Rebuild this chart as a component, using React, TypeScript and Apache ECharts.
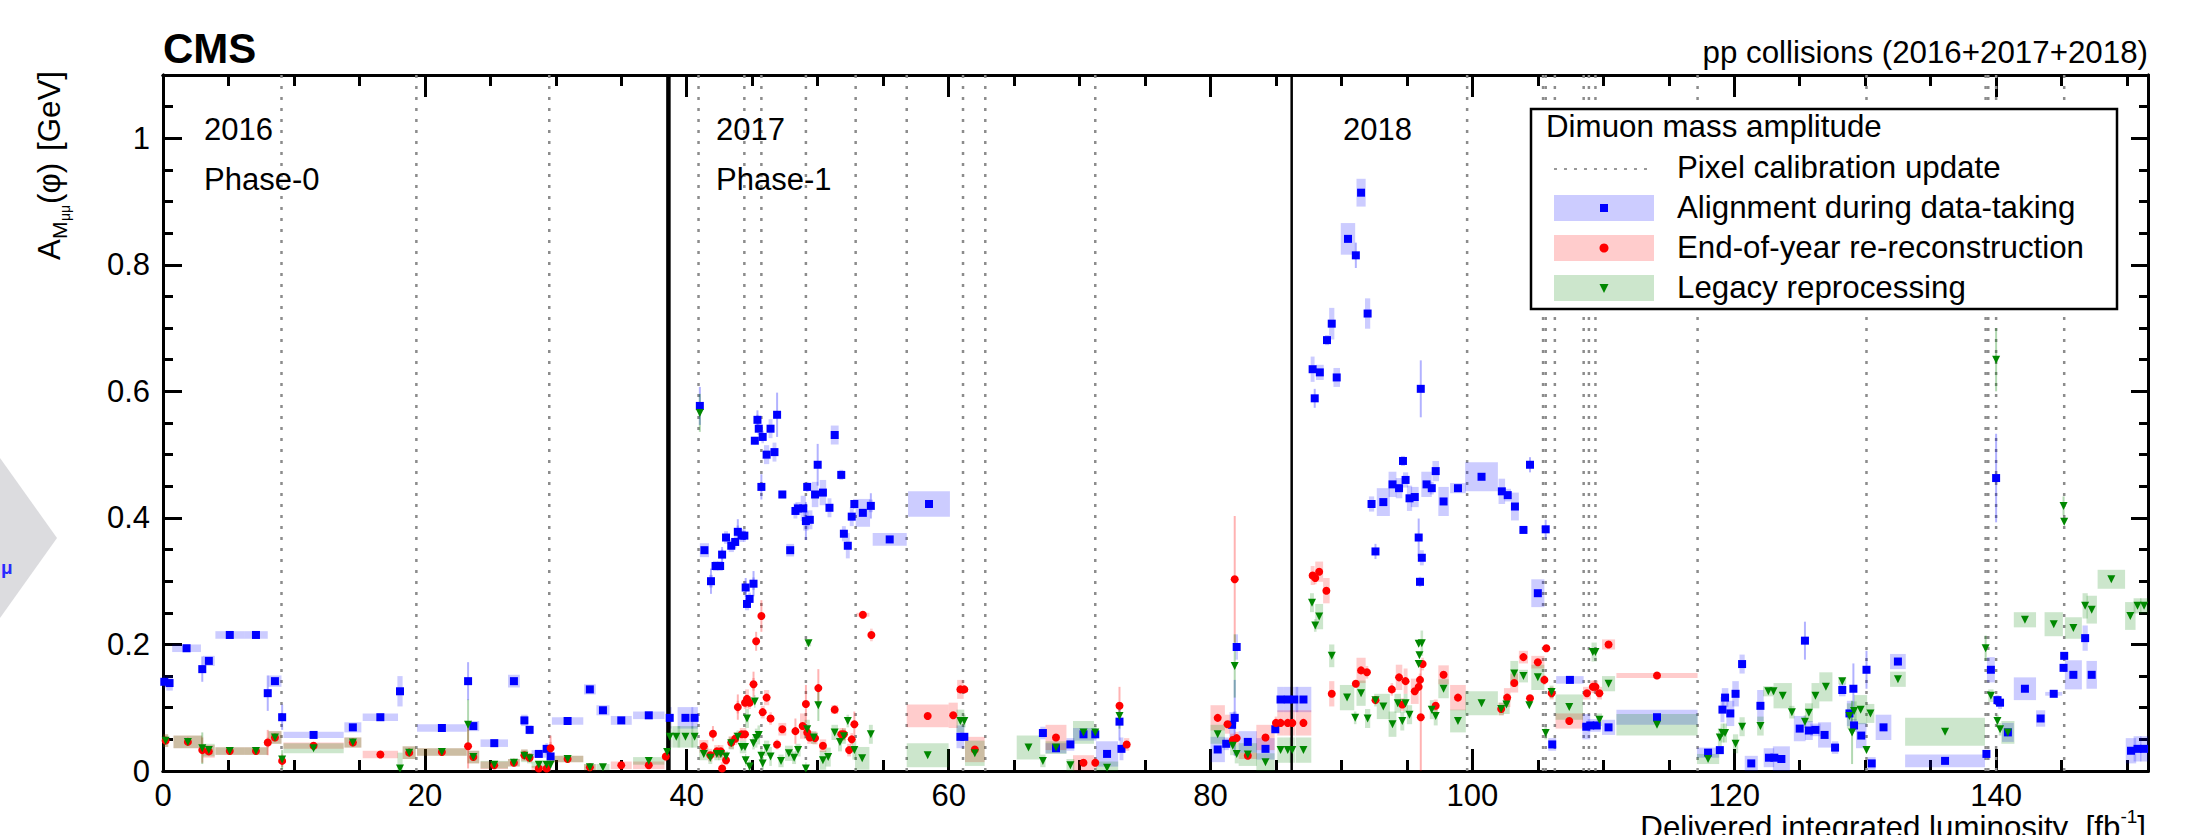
import React, { useEffect, useRef } from "react";
import * as echarts from "echarts";

const FONT = "'Liberation Sans', Arial, Helvetica, sans-serif";

const X_MAX = 151.6;
const Y_MAX = 1.1;
const xTickLabels = [0, 20, 40, 60, 80, 100, 120, 140];
const yTickLabels = [0, 0.2, 0.4, 0.6, 0.8, 1];

// Pixel-calibration updates and year boundaries (integrated luminosity, fb^-1)
const calibLines = [9.05, 19.35, 29.5, 40.9, 44.4, 45.7, 49.1, 52.9, 56.8, 61.1, 62.8, 71.2,
  99.6, 105.4, 105.6, 106.3, 108.5, 108.9, 109.4, 117.2, 130.1, 139.2, 139.4, 140.0, 145.2];
const yearLines = [38.6, 86.2];

// [x, y, box half-width (x), box half-height (y), stat. error (optional)]
const alignData = [
  [0.1, 0.141, 0.1, 0.01], [0.5, 0.139, 0.25, 0.012], [1.8, 0.194, 1.1, 0.006], [3.0, 0.161, 0.05, 0.004, 0.02],
  [3.5, 0.174, 0.45, 0.008], [5.1, 0.215, 1.1, 0.006], [7.1, 0.215, 0.9, 0.006], [8.0, 0.123, 0.1, 0.004, 0.028],
  [8.55, 0.142, 0.5, 0.009], [9.1, 0.085, 0.1, 0.004, 0.02], [11.5, 0.057, 2.3, 0.005], [14.5, 0.069, 0.65, 0.008],
  [16.6, 0.085, 1.35, 0.006], [18.1, 0.126, 0.2, 0.024], [21.3, 0.068, 1.9, 0.006], [23.3, 0.142, 0.05, 0.004, 0.03],
  [23.7, 0.071, 0.45, 0.008], [25.3, 0.044, 1.05, 0.006], [26.8, 0.142, 0.45, 0.01], [27.6, 0.08, 0.25, 0.009],
  [28.0, 0.065, 0.2, 0.007], [28.7, 0.027, 0.55, 0.006], [29.3, 0.035, 0.1, 0.009], [29.6, 0.023, 0.1, 0.005],
  [30.9, 0.079, 1.2, 0.006], [32.6, 0.129, 0.45, 0.008], [33.6, 0.096, 0.5, 0.008], [35.0, 0.08, 0.8, 0.007],
  [37.1, 0.088, 1.2, 0.006],
  [38.7, 0.084, 0.15, 0.017], [39.9, 0.084, 0.6, 0.017], [40.6, 0.084, 0.25, 0.017],
  [41.0, 0.577, 0.08, 0.005, 0.03], [41.35, 0.349, 0.35, 0.011], [41.85, 0.3, 0.15, 0.01, 0.02], [42.2, 0.324, 0.2, 0.008],
  [42.55, 0.324, 0.2, 0.008], [42.7, 0.342, 0.1, 0.008, 0.012], [43.0, 0.369, 0.15, 0.01], [43.4, 0.356, 0.2, 0.01],
  [43.7, 0.362, 0.1, 0.01], [43.9, 0.378, 0.1, 0.01, 0.02], [44.2, 0.372, 0.15, 0.01], [44.4, 0.372, 0.1, 0.01],
  [44.5, 0.29, 0.1, 0.01, 0.015], [44.6, 0.264, 0.15, 0.01], [44.8, 0.272, 0.1, 0.01], [45.1, 0.296, 0.1, 0.01, 0.02],
  [45.2, 0.522, 0.1, 0.006], [45.4, 0.555, 0.1, 0.008, 0.015], [45.5, 0.541, 0.1, 0.01], [45.7, 0.449, 0.08, 0.006, 0.02],
  [45.8, 0.528, 0.1, 0.01], [46.1, 0.5, 0.2, 0.015], [46.4, 0.541, 0.15, 0.015], [46.7, 0.504, 0.15, 0.015],
  [46.9, 0.563, 0.05, 0.005, 0.035], [47.3, 0.437, 0.25, 0.006], [47.9, 0.349, 0.3, 0.01], [48.3, 0.411, 0.15, 0.012],
  [48.5, 0.415, 0.2, 0.01], [48.9, 0.415, 0.2, 0.02], [49.1, 0.395, 0.2, 0.015, 0.03], [49.4, 0.397, 0.2, 0.015],
  [49.2, 0.449, 0.1, 0.008], [49.8, 0.437, 0.25, 0.02], [50.0, 0.484, 0.05, 0.005, 0.033], [50.4, 0.44, 0.25, 0.02],
  [50.9, 0.416, 0.15, 0.015], [51.3, 0.531, 0.3, 0.015], [51.8, 0.468, 0.15, 0.008], [52.0, 0.375, 0.15, 0.012],
  [52.3, 0.356, 0.15, 0.02], [52.6, 0.402, 0.15, 0.015], [52.8, 0.422, 0.1, 0.008], [53.45, 0.408, 0.55, 0.022],
  [54.06, 0.419, 0.15, 0.01, 0.02], [55.5, 0.366, 1.3, 0.01], [58.5, 0.422, 1.6, 0.02], [60.9, 0.054, 0.3, 0.018],
  [61.2, 0.054, 0.15, 0.005], [67.2, 0.06, 0.2, 0.01], [68.2, 0.036, 0.8, 0.008], [69.3, 0.042, 0.3, 0.01],
  [70.3, 0.058, 0.8, 0.01], [71.2, 0.058, 0.1, 0.01],
  [72.1, 0.027, 0.85, 0.02], [73.05, 0.078, 0.1, 0.005, 0.03], [73.2, 0.035, 0.15, 0.018], [80.55, 0.034, 0.55, 0.02],
  [81.2, 0.043, 0.2, 0.01], [81.65, 0.073, 0.2, 0.02], [81.85, 0.084, 0.15, 0.01, 0.06], [82.0, 0.196, 0.1, 0.02],
  [82.85, 0.046, 0.7, 0.017], [84.2, 0.035, 0.7, 0.017], [84.95, 0.066, 0.1, 0.005], [85.35, 0.113, 0.25, 0.02],
  [85.9, 0.113, 0.3, 0.02], [86.4, 0.113, 0.3, 0.02], [87.1, 0.113, 0.6, 0.02],
  [87.8, 0.635, 0.15, 0.02], [87.96, 0.589, 0.05, 0.005, 0.015], [88.35, 0.63, 0.3, 0.012], [88.9, 0.681, 0.15, 0.008],
  [89.26, 0.707, 0.2, 0.025], [89.64, 0.622, 0.25, 0.015], [90.5, 0.841, 0.55, 0.025], [91.1, 0.815, 0.1, 0.006, 0.02],
  [91.5, 0.914, 0.35, 0.022], [92.0, 0.723, 0.2, 0.024], [92.3, 0.422, 0.2, 0.012], [92.6, 0.347, 0.1, 0.005, 0.012],
  [93.2, 0.425, 0.5, 0.022], [93.9, 0.453, 0.3, 0.02], [94.4, 0.447, 0.25, 0.016], [94.7, 0.49, 0.15, 0.008],
  [94.9, 0.46, 0.2, 0.012], [95.2, 0.431, 0.2, 0.02], [95.6, 0.433, 0.3, 0.016], [95.9, 0.369, 0.05, 0.005, 0.03],
  [96.06, 0.604, 0.05, 0.005, 0.045], [96.14, 0.337, 0.15, 0.012], [96.0, 0.299, 0.1, 0.008], [96.5, 0.453, 0.4, 0.02],
  [96.9, 0.447, 0.15, 0.01], [97.2, 0.474, 0.25, 0.016], [97.8, 0.426, 0.4, 0.023], [98.9, 0.447, 0.6, 0.008],
  [100.7, 0.465, 1.25, 0.023], [102.25, 0.442, 0.25, 0.02], [102.7, 0.436, 0.25, 0.01], [103.25, 0.418, 0.3, 0.022],
  [103.9, 0.381, 0.3, 0.004], [104.4, 0.484, 0.1, 0.005, 0.012], [105.0, 0.281, 0.5, 0.022], [105.6, 0.382, 0.1, 0.005, 0.015],
  [106.1, 0.042, 0.3, 0.01], [107.45, 0.144, 1.05, 0.006], [108.7, 0.07, 0.3, 0.02], [109.0, 0.072, 0.2, 0.01],
  [109.5, 0.072, 0.3, 0.01], [110.4, 0.069, 0.5, 0.012], [114.1, 0.085, 3.1, 0.012],
  [118.0, 0.029, 0.85, 0.008], [118.9, 0.033, 0.05, 0.005], [119.1, 0.097, 0.15, 0.02], [119.3, 0.116, 0.25, 0.015],
  [119.7, 0.091, 0.3, 0.02], [120.1, 0.122, 0.25, 0.02], [120.6, 0.169, 0.2, 0.015], [121.3, 0.012, 0.5, 0.012],
  [122.0, 0.103, 0.25, 0.025], [122.65, 0.021, 0.4, 0.015], [123.06, 0.021, 0.1, 0.005], [123.6, 0.019, 0.65, 0.02],
  [125.0, 0.067, 0.45, 0.02], [125.4, 0.206, 0.05, 0.005, 0.03], [125.7, 0.064, 0.3, 0.015], [126.2, 0.065, 0.4, 0.01],
  [126.9, 0.057, 0.5, 0.02], [127.7, 0.037, 0.25, 0.01], [128.25, 0.128, 0.25, 0.01], [128.8, 0.091, 0.2, 0.02],
  [129.1, 0.13, 0.05, 0.005, 0.04], [129.15, 0.072, 0.2, 0.01], [129.7, 0.056, 0.4, 0.02], [130.1, 0.16, 0.05, 0.005, 0.03],
  [130.5, 0.012, 0.3, 0.01], [131.4, 0.069, 0.6, 0.02], [132.5, 0.173, 0.6, 0.012], [136.1, 0.016, 3.05, 0.01],
  [139.26, 0.027, 0.1, 0.005], [139.6, 0.16, 0.3, 0.02], [140.0, 0.463, 0.05, 0.005, 0.07], [140.1, 0.112, 0.15, 0.008],
  [140.3, 0.108, 0.15, 0.01], [140.9, 0.061, 0.45, 0.015], [142.2, 0.13, 0.85, 0.018], [143.4, 0.083, 0.35, 0.013],
  [144.4, 0.122, 0.65, 0.003], [145.15, 0.163, 0.05, 0.005], [145.2, 0.182, 0.05, 0.005], [145.9, 0.152, 0.65, 0.023],
  [146.8, 0.21, 0.2, 0.02], [147.3, 0.152, 0.4, 0.022], [150.3, 0.032, 0.4, 0.02], [150.8, 0.035, 0.3, 0.02],
  [151.3, 0.035, 0.3, 0.02],
];

const eoyData = [
  [0.2, 0.048, 0.2, 0.01], [1.9, 0.046, 1.1, 0.01], [3.0, 0.033, 0.05, 0.005, 0.02], [3.5, 0.031, 0.45, 0.01],
  [5.1, 0.0315, 1.1, 0.006], [7.1, 0.0315, 0.9, 0.006], [8.0, 0.045, 0.1, 0.008, 0.02], [8.55, 0.053, 0.5, 0.01],
  [9.1, 0.016, 0.1, 0.005, 0.01], [11.5, 0.04, 2.3, 0.005], [14.5, 0.045, 0.65, 0.008], [16.6, 0.026, 1.35, 0.006],
  [18.8, 0.029, 0.5, 0.01], [21.3, 0.03, 1.9, 0.006], [23.3, 0.039, 0.05, 0.004, 0.035], [23.7, 0.022, 0.45, 0.01],
  [25.3, 0.009, 1.05, 0.006], [26.8, 0.013, 0.45, 0.006], [27.6, 0.025, 0.25, 0.009], [28.0, 0.021, 0.2, 0.007],
  [28.7, 0.004, 0.55, 0.004], [29.3, 0.004, 0.1, 0.004], [29.6, 0.036, 0.1, 0.01, 0.02], [30.9, 0.019, 1.2, 0.005],
  [32.6, 0.006, 0.45, 0.005], [35.0, 0.009, 0.8, 0.006], [37.1, 0.009, 1.2, 0.006], [38.4, 0.023, 0.1, 0.008],
  [41.3, 0.039, 0.35, 0.01], [41.8, 0.025, 0.15, 0.01], [42.0, 0.059, 0.1, 0.005, 0.012], [42.3, 0.031, 0.2, 0.01],
  [42.6, 0.031, 0.2, 0.01], [42.7, 0.004, 0.1, 0.01], [43.0, 0.017, 0.15, 0.008], [43.4, 0.045, 0.2, 0.01],
  [43.7, 0.051, 0.15, 0.01], [43.9, 0.101, 0.1, 0.01, 0.02], [44.2, 0.058, 0.15, 0.01], [44.45, 0.058, 0.1, 0.01],
  [44.45, 0.108, 0.1, 0.01], [44.6, 0.114, 0.15, 0.015], [44.8, 0.108, 0.1, 0.01], [45.1, 0.137, 0.1, 0.01, 0.02],
  [45.3, 0.205, 0.05, 0.005, 0.015], [45.7, 0.245, 0.05, 0.005, 0.025], [45.8, 0.093, 0.15, 0.01], [46.1, 0.116, 0.2, 0.012],
  [46.4, 0.083, 0.1, 0.01], [46.9, 0.042, 0.1, 0.008], [47.3, 0.066, 0.3, 0.01], [48.3, 0.063, 0.05, 0.005, 0.02],
  [48.85, 0.071, 0.2, 0.02], [49.1, 0.106, 0.05, 0.005, 0.03], [49.2, 0.061, 0.2, 0.01], [49.4, 0.053, 0.2, 0.01],
  [49.8, 0.052, 0.2, 0.01], [50.05, 0.131, 0.05, 0.005, 0.03], [50.4, 0.04, 0.25, 0.01], [51.3, 0.097, 0.25, 0.007],
  [51.8, 0.058, 0.15, 0.01], [52.0, 0.058, 0.15, 0.01], [52.4, 0.033, 0.15, 0.01], [52.6, 0.05, 0.1, 0.01],
  [52.8, 0.074, 0.05, 0.005, 0.02], [53.45, 0.247, 0.5, 0.003], [54.1, 0.215, 0.1, 0.01], [58.4, 0.087, 1.6, 0.018],
  [60.35, 0.088, 0.35, 0.02], [60.9, 0.129, 0.25, 0.015], [61.2, 0.129, 0.1, 0.005], [62.0, 0.034, 0.75, 0.02],
  [68.2, 0.053, 0.8, 0.02], [70.3, 0.013, 0.8, 0.012], [71.2, 0.013, 0.1, 0.008],
  [73.05, 0.103, 0.05, 0.005, 0.03], [73.6, 0.042, 0.2, 0.01], [80.55, 0.084, 0.55, 0.02], [81.3, 0.074, 0.2, 0.015],
  [81.7, 0.049, 0.2, 0.01], [82.0, 0.052, 0.15, 0.01], [81.85, 0.303, 0.05, 0.005, 0.1], [82.85, 0.024, 0.7, 0.005],
  [84.2, 0.053, 0.7, 0.02], [85.0, 0.076, 0.1, 0.01], [85.35, 0.076, 0.25, 0.02], [85.9, 0.076, 0.3, 0.02],
  [86.25, 0.076, 0.2, 0.02], [87.1, 0.076, 0.6, 0.02],
  [87.8, 0.309, 0.15, 0.015], [88.0, 0.305, 0.1, 0.01], [88.3, 0.315, 0.3, 0.016], [88.85, 0.285, 0.25, 0.02],
  [89.26, 0.122, 0.2, 0.02], [91.1, 0.138, 0.1, 0.006], [91.5, 0.159, 0.35, 0.02], [91.95, 0.156, 0.1, 0.01],
  [92.6, 0.112, 0.1, 0.005], [93.85, 0.129, 0.1, 0.01], [94.4, 0.148, 0.25, 0.02], [94.65, 0.105, 0.15, 0.01],
  [94.9, 0.142, 0.15, 0.02], [95.6, 0.126, 0.3, 0.02], [95.9, 0.133, 0.05, 0.005], [96.0, 0.144, 0.1, 0.01],
  [96.06, 0.085, 0.05, 0.005, 0.09], [96.2, 0.169, 0.1, 0.01], [97.2, 0.103, 0.15, 0.01], [97.8, 0.152, 0.4, 0.015],
  [98.9, 0.116, 0.6, 0.02], [102.2, 0.098, 0.2, 0.01], [102.66, 0.116, 0.25, 0.015], [103.2, 0.139, 0.3, 0.015],
  [103.9, 0.18, 0.35, 0.01], [104.4, 0.115, 0.05, 0.005], [105.0, 0.172, 0.5, 0.01], [105.5, 0.144, 0.1, 0.008],
  [105.65, 0.194, 0.05, 0.005], [106.05, 0.123, 0.15, 0.01], [107.4, 0.079, 1.05, 0.012], [108.75, 0.123, 0.3, 0.01],
  [109.2, 0.133, 0.2, 0.01], [109.4, 0.133, 0.2, 0.01], [109.7, 0.123, 0.2, 0.01], [110.4, 0.2, 0.5, 0.008],
  [114.1, 0.151, 3.1, 0.004],
];

const legacyData = [
  [0.2, 0.048, 0.2, 0.01], [1.9, 0.046, 1.1, 0.01], [3.0, 0.036, 0.05, 0.005, 0.025], [3.5, 0.033, 0.45, 0.01],
  [5.1, 0.0315, 1.1, 0.006], [7.1, 0.0315, 0.9, 0.006], [8.55, 0.053, 0.5, 0.01], [9.1, 0.018, 0.1, 0.005, 0.015],
  [11.5, 0.036, 2.3, 0.008], [14.5, 0.045, 0.65, 0.008], [18.1, 0.004, 0.2, 0.025], [18.8, 0.029, 0.5, 0.01],
  [21.3, 0.03, 1.9, 0.006], [23.3, 0.073, 0.05, 0.005, 0.04], [23.7, 0.022, 0.45, 0.01], [25.3, 0.01, 1.05, 0.006],
  [26.8, 0.013, 0.45, 0.006], [27.6, 0.024, 0.25, 0.01], [28.0, 0.02, 0.2, 0.008], [28.7, 0.01, 0.55, 0.005],
  [29.3, 0.01, 0.1, 0.005], [29.6, 0.01, 0.1, 0.005], [30.9, 0.019, 1.2, 0.005], [32.6, 0.006, 0.45, 0.005],
  [33.6, 0.006, 0.5, 0.005], [37.1, 0.016, 1.2, 0.006], [38.5, 0.03, 0.1, 0.005],
  [38.7, 0.054, 0.15, 0.017], [39.2, 0.054, 0.3, 0.017], [39.9, 0.054, 0.6, 0.017], [40.6, 0.054, 0.25, 0.017],
  [41.0, 0.566, 0.05, 0.005, 0.03], [41.3, 0.027, 0.35, 0.01], [41.8, 0.021, 0.15, 0.01], [42.3, 0.027, 0.2, 0.01],
  [42.6, 0.027, 0.2, 0.01], [43.0, 0.023, 0.15, 0.008], [43.4, 0.044, 0.2, 0.01], [43.9, 0.054, 0.1, 0.01],
  [44.2, 0.038, 0.15, 0.01], [44.45, 0.038, 0.1, 0.01], [44.5, 0.017, 0.05, 0.01], [44.6, 0.083, 0.15, 0.015],
  [44.8, 0.007, 0.1, 0.01], [45.1, 0.044, 0.1, 0.01], [45.2, 0.11, 0.05, 0.01], [45.3, 0.052, 0.1, 0.015],
  [45.5, 0.057, 0.1, 0.015], [45.7, 0.024, 0.1, 0.012], [45.8, 0.012, 0.1, 0.01], [46.1, 0.036, 0.2, 0.012],
  [46.4, 0.023, 0.1, 0.015], [47.2, 0.016, 0.2, 0.01], [47.8, 0.028, 0.3, 0.012], [48.2, 0.021, 0.15, 0.01],
  [48.5, 0.033, 0.2, 0.01], [49.1, 0.004, 0.05, 0.01], [49.2, 0.066, 0.2, 0.015], [49.3, 0.202, 0.2, 0.005],
  [49.7, 0.053, 0.2, 0.01], [50.05, 0.104, 0.05, 0.005, 0.025], [50.4, 0.017, 0.25, 0.015], [50.8, 0.022, 0.2, 0.015],
  [51.3, 0.061, 0.25, 0.012], [51.7, 0.046, 0.15, 0.015], [52.0, 0.055, 0.15, 0.012], [52.3, 0.079, 0.1, 0.01],
  [52.8, 0.033, 0.15, 0.015], [53.4, 0.02, 0.55, 0.018], [54.06, 0.058, 0.15, 0.015], [58.4, 0.025, 1.6, 0.019],
  [60.9, 0.079, 0.3, 0.018], [61.2, 0.079, 0.1, 0.01], [62.0, 0.028, 0.75, 0.02], [66.1, 0.037, 0.9, 0.019],
  [67.2, 0.016, 0.2, 0.01], [68.2, 0.037, 0.8, 0.01], [69.3, 0.009, 0.3, 0.01], [70.3, 0.061, 0.8, 0.018],
  [71.2, 0.061, 0.1, 0.01],
  [72.1, 0.005, 0.85, 0.01], [73.05, 0.087, 0.05, 0.005, 0.02], [80.55, 0.058, 0.55, 0.015], [81.7, 0.04, 0.2, 0.015],
  [81.85, 0.166, 0.05, 0.005, 0.05], [82.0, 0.027, 0.15, 0.015], [82.85, 0.026, 0.7, 0.018], [84.2, 0.014, 0.7, 0.014],
  [85.35, 0.033, 0.25, 0.02], [85.9, 0.033, 0.3, 0.02], [86.25, 0.033, 0.2, 0.02], [87.1, 0.033, 0.6, 0.02],
  [87.75, 0.266, 0.15, 0.015], [88.0, 0.23, 0.1, 0.01], [88.3, 0.244, 0.3, 0.02], [89.26, 0.182, 0.2, 0.018],
  [90.43, 0.116, 0.55, 0.02], [91.05, 0.084, 0.1, 0.01], [91.5, 0.123, 0.35, 0.02], [92.0, 0.083, 0.2, 0.015],
  [92.6, 0.112, 0.1, 0.01], [93.2, 0.102, 0.5, 0.02], [93.9, 0.074, 0.3, 0.02], [94.3, 0.107, 0.25, 0.015],
  [94.65, 0.079, 0.15, 0.015], [94.9, 0.107, 0.15, 0.015], [95.2, 0.089, 0.2, 0.015], [95.9, 0.201, 0.05, 0.005],
  [95.96, 0.183, 0.05, 0.005], [95.9, 0.169, 0.05, 0.005], [96.14, 0.202, 0.1, 0.02], [96.9, 0.097, 0.15, 0.015],
  [97.2, 0.087, 0.15, 0.015], [97.8, 0.13, 0.4, 0.015], [98.9, 0.079, 0.6, 0.018], [100.7, 0.107, 1.25, 0.019],
  [102.2, 0.098, 0.2, 0.01], [102.6, 0.105, 0.25, 0.015], [103.2, 0.154, 0.3, 0.02], [103.9, 0.15, 0.35, 0.01],
  [104.35, 0.104, 0.05, 0.005], [105.0, 0.148, 0.5, 0.02], [105.6, 0.06, 0.1, 0.01], [106.05, 0.125, 0.15, 0.01],
  [107.4, 0.101, 1.05, 0.02], [109.2, 0.188, 0.1, 0.015], [109.4, 0.188, 0.1, 0.015], [109.7, 0.081, 0.2, 0.01],
  [110.4, 0.138, 0.5, 0.012], [114.1, 0.073, 3.1, 0.017],
  [118.0, 0.019, 0.85, 0.008], [118.9, 0.053, 0.15, 0.015], [119.1, 0.06, 0.15, 0.015], [119.3, 0.06, 0.15, 0.015],
  [120.1, 0.043, 0.2, 0.015], [120.6, 0.07, 0.2, 0.015], [122.0, 0.071, 0.25, 0.015], [122.6, 0.126, 0.4, 0.008],
  [123.0, 0.126, 0.1, 0.005], [123.7, 0.119, 0.7, 0.02], [124.4, 0.093, 0.2, 0.01], [125.4, 0.078, 0.1, 0.01],
  [125.7, 0.092, 0.3, 0.015], [126.2, 0.119, 0.3, 0.02], [127.0, 0.133, 0.5, 0.023], [128.25, 0.142, 0.3, 0.005],
  [128.8, 0.087, 0.2, 0.02], [129.0, 0.061, 0.05, 0.005, 0.05], [129.15, 0.095, 0.2, 0.015], [129.65, 0.097, 0.5, 0.023],
  [130.1, 0.033, 0.05, 0.005], [130.4, 0.091, 0.3, 0.015], [132.5, 0.145, 0.6, 0.012], [136.1, 0.062, 3.05, 0.022],
  [139.2, 0.194, 0.05, 0.005, 0.02], [139.6, 0.119, 0.2, 0.01], [140.0, 0.65, 0.05, 0.005, 0.05], [140.1, 0.079, 0.1, 0.01],
  [140.3, 0.066, 0.1, 0.01], [140.9, 0.061, 0.5, 0.018], [142.2, 0.239, 0.85, 0.012], [144.4, 0.232, 0.7, 0.019],
  [145.15, 0.419, 0.05, 0.005, 0.015], [145.2, 0.394, 0.05, 0.005], [145.9, 0.226, 0.65, 0.017], [146.8, 0.261, 0.2, 0.02],
  [147.3, 0.255, 0.4, 0.022], [148.8, 0.303, 1.05, 0.015], [150.25, 0.245, 0.4, 0.022], [150.8, 0.261, 0.3, 0.012],
  [151.3, 0.261, 0.3, 0.012],
];

const BLUE_BOX = "rgba(0,0,255,0.2)";
const RED_BOX = "rgba(255,0,0,0.2)";
const GREEN_BOX = "rgba(0,128,0,0.2)";

function boxSeries(name: string, data: number[][], fill: string, line: string, z: number) {
  return {
    type: "custom",
    name,
    silent: true,
    clip: true,
    z,
    data: data.map((d) => [d[0], d[1], d[2], d[3], d[4] || 0]),
    encode: { x: 0, y: 1 },
    renderItem: (params: any, api: any) => {
      const x = api.value(0), y = api.value(1), hw = api.value(2), ey = api.value(3), er = api.value(4);
      const p0 = api.coord([x - hw, y + ey]);
      const p1 = api.coord([x + hw, y - ey]);
      const children: any[] = [
        { type: "rect", shape: { x: p0[0], y: p0[1], width: Math.max(p1[0] - p0[0], 1), height: Math.max(p1[1] - p0[1], 1) }, style: { fill } },
      ];
      if (er > 0) {
        const a = api.coord([x, y + er]);
        const b = api.coord([x, y - er]);
        children.push({ type: "line", shape: { x1: a[0], y1: a[1], x2: b[0], y2: b[1] }, style: { stroke: line, lineWidth: 2 } });
      }
      return { type: "group", children };
    },
  };
}

function vlineSeries(values: number[], stroke: string, width: number, dash: any, z: number) {
  return {
    type: "custom",
    silent: true,
    z,
    data: values.map((v) => [v, 0]),
    encode: { x: 0, y: 1 },
    renderItem: (params: any, api: any) => {
      const cs = params.coordSys;
      const p = api.coord([api.value(0), 0]);
      return {
        type: "line",
        shape: { x1: p[0], y1: cs.y, x2: p[0], y2: cs.y + cs.height },
        style: { stroke, lineWidth: width, lineDash: dash },
      };
    },
  };
}

function markerSeries(data: number[][], symbol: string, size: number, color: string, rotate = 0) {
  return {
    type: "scatter",
    silent: true,
    z: 6,
    symbol,
    symbolSize: size,
    symbolRotate: rotate,
    itemStyle: { color, opacity: 1 },
    data: data.map((d) => [d[0], d[1]]),
  };
}

function xAxisDef(position: string, interval: number, len: number, labels: boolean) {
  return {
    type: "value",
    position,
    min: 0,
    max: X_MAX,
    interval,
    axisLine: { show: true, onZero: false, lineStyle: { color: "#000", width: 3 } },
    axisTick: { show: true, inside: true, length: len, lineStyle: { color: "#000", width: 3 } },
    axisLabel: {
      show: labels,
      fontSize: 31,
      fontFamily: FONT,
      color: "#000",
      margin: 9,
      formatter: (v: number) => (xTickLabels.indexOf(v) >= 0 ? String(v) : ""),
    },
    splitLine: { show: false },
  };
}

function yAxisDef(position: string, interval: number, len: number, labels: boolean) {
  return {
    type: "value",
    position,
    min: 0,
    max: Y_MAX,
    interval,
    axisLine: { show: true, onZero: false, lineStyle: { color: "#000", width: 3 } },
    axisTick: { show: true, inside: true, length: len, lineStyle: { color: "#000", width: 3 } },
    axisLabel: {
      show: labels,
      fontSize: 31,
      fontFamily: FONT,
      color: "#000",
      margin: 13,
      formatter: (v: number) => {
        const hit = yTickLabels.find((t) => Math.abs(t - v) < 1e-6);
        return hit === undefined ? "" : String(hit);
      },
    },
    splitLine: { show: false },
  };
}

function txt(x: number, y: number, text: string, size: number, extra: any = {}) {
  return {
    type: "text",
    x,
    y,
    z: 120,
    silent: true,
    style: { text, fontSize: size, fontFamily: FONT, fill: "#000", verticalAlign: "middle", align: "left", ...extra },
  };
}

export default function App() {
  const ref = useRef<HTMLDivElement>(null);
  useEffect(() => {
    if (!ref.current) return;
    const chart = echarts.init(ref.current, undefined, { renderer: "svg" });
    const LX = 1531, LY = 109;
    const LF = 31.3;
    const option: any = {
      animation: false,
      backgroundColor: "#ffffff",
      grid: { left: 163, right: 39, top: 75, bottom: 64, containLabel: false },
      xAxis: [
        xAxisDef("bottom", 20, 22, true),
        xAxisDef("bottom", 5, 11, false),
        xAxisDef("top", 20, 22, false),
        xAxisDef("top", 5, 11, false),
      ],
      yAxis: [
        yAxisDef("left", 0.2, 19, true),
        yAxisDef("left", 0.05, 10, false),
        yAxisDef("right", 0.2, 17, false),
        yAxisDef("right", 0.05, 9, false),
      ],
      series: [
        vlineSeries(calibLines, "#8c8c8c", 2.5, [3, 8], 1),
        boxSeries("Alignment during data-taking", alignData, BLUE_BOX, "rgba(0,0,255,0.3)", 2),
        boxSeries("End-of-year re-reconstruction", eoyData, RED_BOX, "rgba(255,0,0,0.3)", 2),
        boxSeries("Legacy reprocessing", legacyData, GREEN_BOX, "rgba(0,128,0,0.3)", 2),
        vlineSeries([yearLines[0]], "#000", 4.5, null, 4),
        vlineSeries([yearLines[1]], "#000", 2.5, null, 4),
        markerSeries(alignData, "rect", 8, "#0000ff"),
        markerSeries(eoyData, "circle", 8, "#ff0000"),
        markerSeries(legacyData, "triangle", 8, "#008800", 180),
      ],
      graphic: [
        // cut-off arrow at the left edge
        { type: "polygon", z: 50, silent: true, shape: { points: [[0, 458], [57, 538], [0, 618]] }, style: { fill: "#dcdcdf" } },
        txt(1, 567, "μ", 19, { fill: "#2a2aff", fontWeight: "bold" }),
        // headers
        txt(163, 48, "CMS", 42, { fontWeight: "bold" }),
        txt(2148, 52, "pp collisions (2016+2017+2018)", LF, { align: "right" }),
        txt(204, 129, "2016", 31),
        txt(204, 179, "Phase-0", 31),
        txt(716, 129, "2017", 31),
        txt(716, 179, "Phase-1", 31),
        txt(1343, 129, "2018", 31),
        // x-axis title
        {
          type: "text",
          z: 120,
          x: 2146,
          y: 807,
          style: {
            text: "{a|Delivered integrated luminosity  [fb}{s|-1}{a|]}",
            align: "right",
            verticalAlign: "top",
            fill: "#000",
            rich: {
              a: { fontSize: LF, fontFamily: FONT, lineHeight: 40, fill: "#000" },
              s: { fontSize: 19, fontFamily: FONT, lineHeight: 22, verticalAlign: "top", fill: "#000" },
            },
          },
        },
        // y-axis title, rotated
        {
          type: "group",
          x: 60,
          y: 260,
          rotation: Math.PI / 2,
          z: 120,
          children: [
            txt(0, -11, "A", LF),
            txt(21, -1, "M", 21),
            txt(39, 5, "μμ", 14),
            txt(56, -11, "(φ)", LF),
            txt(109, -11, "[GeV]", LF),
          ],
        },
        // legend
        {
          type: "group",
          z: 100,
          children: [
            { type: "rect", z: 100, shape: { x: LX, y: LY, width: 586, height: 200 }, style: { fill: "#fff", stroke: "#000", lineWidth: 2.5 } },
            txt(LX + 15, 126, "Dimuon mass amplitude", LF),
            { type: "line", z: 110, shape: { x1: LX + 23, y1: 169, x2: LX + 120, y2: 169 }, style: { stroke: "#9a9a9a", lineWidth: 2, lineDash: [3, 7] } },
            txt(1677, 167, "Pixel calibration update", LF),
            { type: "rect", z: 110, shape: { x: LX + 23, y: 195, width: 100, height: 26 }, style: { fill: "#ccccff" } },
            { type: "rect", z: 111, shape: { x: 1600, y: 204, width: 8, height: 8 }, style: { fill: "#0000ff" } },
            txt(1677, 207, "Alignment during data-taking", LF),
            { type: "rect", z: 110, shape: { x: LX + 23, y: 235, width: 100, height: 26 }, style: { fill: "#ffcccc" } },
            { type: "circle", z: 111, shape: { cx: 1604, cy: 248, r: 4.5 }, style: { fill: "#ff0000" } },
            txt(1677, 247, "End-of-year re-reconstruction", LF),
            { type: "rect", z: 110, shape: { x: LX + 23, y: 275, width: 100, height: 26 }, style: { fill: "#cce6cc" } },
            { type: "polygon", z: 111, shape: { points: [[1599.5, 284], [1608.5, 284], [1604, 293]] }, style: { fill: "#008800" } },
            txt(1677, 287, "Legacy reprocessing", LF),
          ],
        },
      ],
    };
    chart.setOption(option);
    return () => chart.dispose();
  }, []);
  return <div ref={ref} style={{ position: "absolute", left: 0, top: 0, width: 2187, height: 835 }} />;
}
